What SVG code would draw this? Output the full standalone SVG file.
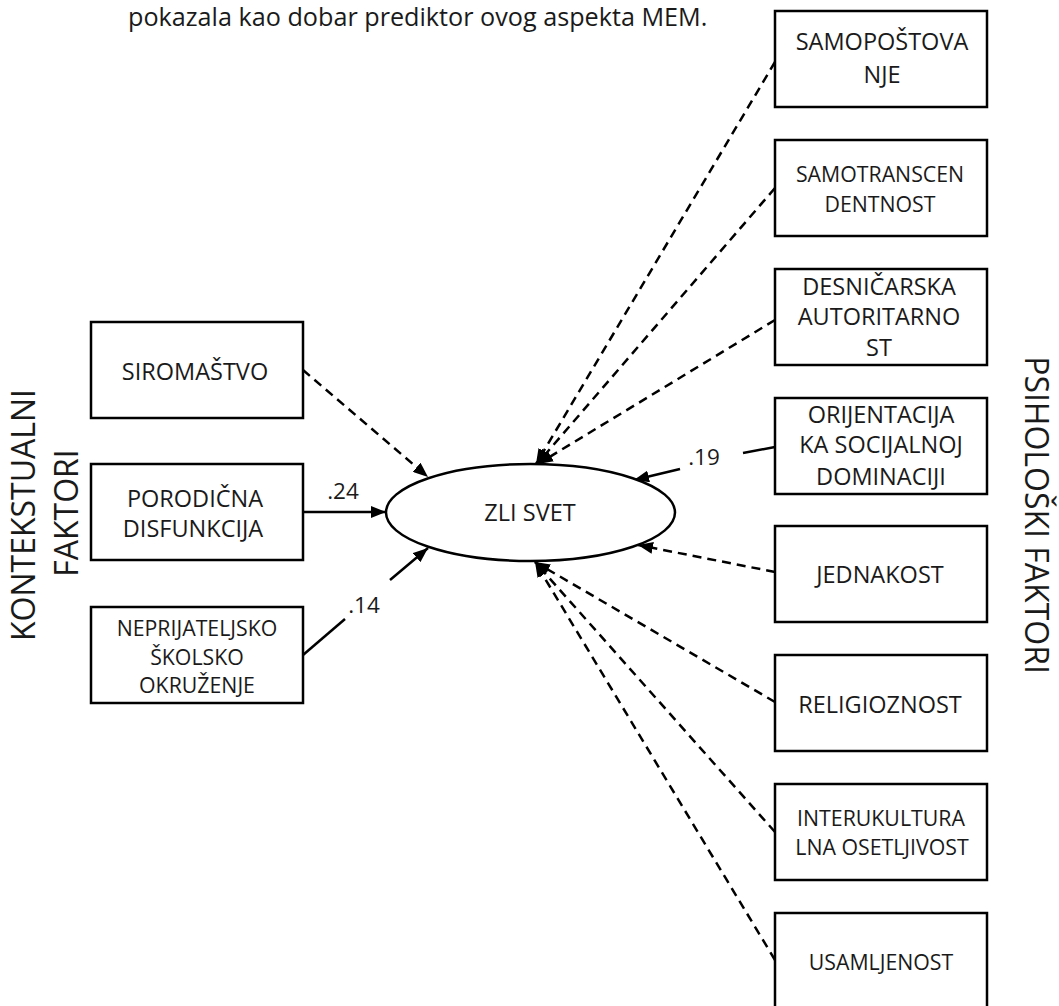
<svg xmlns="http://www.w3.org/2000/svg" width="1059" height="1006" viewBox="0 0 1059 1006">
<style>
text{font-family:"Open Sans","DejaVu Sans",sans-serif;fill:#1a1a1a;}
.box{fill:#fff;stroke:#000;stroke-width:2.5;}
.t{text-anchor:middle;font-size:23.5px;}
.s{font-size:21.3px;}
.side{font-size:32px;text-anchor:middle;}
.lbl{font-size:22.5px;text-anchor:middle;}
.solid{stroke:#000;stroke-width:2.5;fill:none;}
.dash{stroke:#000;stroke-width:2.5;fill:none;stroke-dasharray:9 6;}
</style>
<defs>
<marker id="ah" markerUnits="userSpaceOnUse" markerWidth="16" markerHeight="12" refX="15" refY="6" orient="auto">
<path d="M0,0 L15,6 L0,12 z" fill="#000"/>
</marker>
</defs>
<rect width="1059" height="1006" fill="#fff"/>
<text x="128" y="26" style="font-size:25.2px">pokazala kao dobar prediktor ovog aspekta MEM.</text>
<text class="side" transform="translate(35,515) rotate(-90)">KONTEKSTUALNI</text>
<text class="side" transform="translate(78,513) rotate(-90)">FAKTORI</text>
<text class="side" transform="translate(1025,515) rotate(90)">PSIHOLOŠKI FAKTORI</text>
<g id="connectors">
<path class="dash" d="M303,370 L428,477" marker-end="url(#ah)"/>
<path class="solid" d="M303,512 L386,512" marker-end="url(#ah)"/>
<path class="solid" d="M303,655 L345,619"/>
<path class="solid" d="M390,580 L428,548" marker-end="url(#ah)"/>
<path class="dash" d="M775,62 L536,464" marker-end="url(#ah)"/>
<path class="dash" d="M775,188 L537,464" marker-end="url(#ah)"/>
<path class="dash" d="M775,320 L538,464" marker-end="url(#ah)"/>
<path class="solid" d="M775,447 L743,453"/>
<path class="solid" d="M680,469 L634,480" marker-end="url(#ah)"/>
<path class="dash" d="M775,572 L638,545" marker-end="url(#ah)"/>
<path class="dash" d="M775,702 L535,562" marker-end="url(#ah)"/>
<path class="dash" d="M775,832 L535,562" marker-end="url(#ah)"/>
<path class="dash" d="M775,960 L535,562" marker-end="url(#ah)"/>
<text class="lbl" x="343" y="499">.24</text>
<text class="lbl" x="364" y="613">.14</text>
<text class="lbl" x="704" y="465">.19</text>
</g>
<g id="zli-svet">
<ellipse cx="530.5" cy="512.5" rx="144.5" ry="48.5" fill="#fff" stroke="#000" stroke-width="2.5"/>
<text class="t" x="530" y="521">ZLI SVET</text>
</g>
<g id="siromastvo">
<rect class="box" x="91" y="322" width="212" height="96"/>
<text class="t" x="195" y="380">SIROMAŠTVO</text>
</g>
<g id="porodicna">
<rect class="box" x="91" y="464" width="212" height="96"/>
<text class="t" x="195" y="507">PORODIČNA</text>
<text class="t" x="193" y="537">DISFUNKCIJA</text>
</g>
<g id="neprijateljsko">
<rect class="box" x="91" y="607" width="212" height="96"/>
<text class="t s" x="197" y="636">NEPRIJATELJSKO</text>
<text class="t s" x="197" y="665">ŠKOLSKO</text>
<text class="t s" x="197" y="693">OKRUŽENJE</text>
</g>
<g id="samopostovanje">
<rect class="box" x="775" y="11" width="212" height="96"/>
<text class="t" x="882" y="50">SAMOPOŠTOVA</text>
<text class="t" x="882" y="83">NJE</text>
</g>
<g id="samotranscendentnost">
<rect class="box" x="775" y="140" width="212" height="96"/>
<text class="t s" x="880" y="182">SAMOTRANSCEN</text>
<text class="t s" x="880" y="212">DENTNOST</text>
</g>
<g id="desnicarska">
<rect class="box" x="775" y="269" width="212" height="96"/>
<text class="t" x="879" y="295">DESNIČARSKA</text>
<text class="t" x="879" y="325">AUTORITARNO</text>
<text class="t" x="879" y="356">ST</text>
</g>
<g id="orijentacija">
<rect class="box" x="775" y="398" width="212" height="96"/>
<text class="t" x="881" y="423">ORIJENTACIJA</text>
<text class="t" x="881" y="453">KA SOCIJALNOJ</text>
<text class="t" x="881" y="485">DOMINACIJI</text>
</g>
<g id="jednakost">
<rect class="box" x="775" y="526" width="212" height="96"/>
<text class="t" x="880" y="583">JEDNAKOST</text>
</g>
<g id="religioznost">
<rect class="box" x="775" y="655" width="212" height="96"/>
<text class="t" x="880" y="713">RELIGIOZNOST</text>
</g>
<g id="interkulturalna">
<rect class="box" x="775" y="784" width="212" height="96"/>
<text class="t s" x="881" y="826">INTERUKULTURA</text>
<text class="t s" x="882" y="855">LNA OSETLJIVOST</text>
</g>
<g id="usamljenost">
<rect class="box" x="775" y="913" width="212" height="96"/>
<text class="t s" x="881" y="970">USAMLJENOST</text>
</g>
</svg>
